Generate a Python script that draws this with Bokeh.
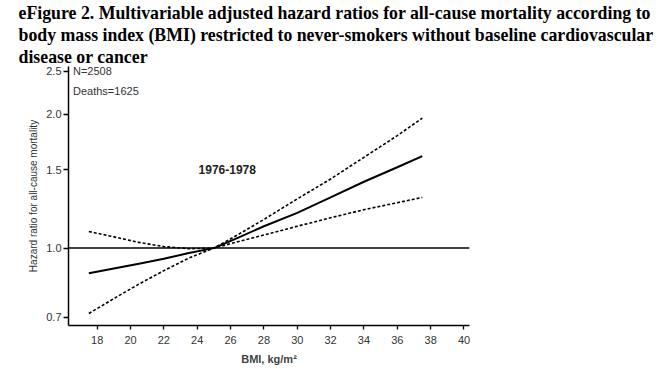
from bokeh.plotting import figure
from bokeh.models import FixedTicker, NumeralTickFormatter, Label, Span, Title, Range1d
from bokeh.embed import file_html
from bokeh.resources import INLINE

# ---- data ----
bmi = [17.5, 19, 20.5, 22, 23.5, 25, 26.5, 28, 30, 32, 34, 36, 37.5]
hr = [0.878, 0.900, 0.922, 0.946, 0.975, 1.0, 1.057, 1.12, 1.20, 1.30, 1.41, 1.52, 1.61]
hr_upper = [1.09, 1.06, 1.03, 1.008, 0.997, 1.0, 1.075, 1.16, 1.29, 1.43, 1.60, 1.79, 1.96]
hr_lower = [0.713, 0.77, 0.83, 0.89, 0.95, 1.0, 1.035, 1.07, 1.12, 1.17, 1.22, 1.265, 1.30]
x_ticks = [18, 20, 22, 24, 26, 28, 30, 32, 34, 36, 38, 40]
y_ticks = [0.7, 1.0, 1.5, 2.0, 2.5]
title_lines = [
    "eFigure 2. Multivariable adjusted hazard ratios for all-cause mortality according to",
    "body mass index (BMI) restricted to never-smokers without baseline cardiovascular",
    "disease or cancer",
]
period_label = "1976-1978"
n_label = "N=2508"
deaths_label = "Deaths=1625"

p = figure(width=661, height=369, y_axis_type="log",
           x_range=Range1d(16.28, 40.33), y_range=Range1d(0.670, 2.56),
           output_backend="svg", toolbar_location=None,
           min_border_left=68, min_border_right=192, min_border_bottom=44,
           min_border_top=0)
p.outline_line_color = None
p.xgrid.visible = False
p.ygrid.visible = False

# titles (first added is nearest to the plot)
for line in reversed(title_lines):
    t = Title(text=line, align="left", offset=-50,
              text_font="Liberation Serif", text_font_style="bold",
              text_font_size="17.8px", text_color="black", standoff=0)
    p.add_layout(t, "above")

# reference line
p.add_layout(Span(location=1.0, dimension="width", line_color="black", line_width=1.5))

p.line(bmi, hr, line_color="black", line_width=2)
p.line(bmi, hr_upper, line_color="black", line_width=1.6, line_dash="3 2")
p.line(bmi, hr_lower, line_color="black", line_width=1.6, line_dash="3 2")

for ax in (p.xaxis[0], p.yaxis[0]):
    ax.axis_line_color = "black"
    ax.axis_line_width = 1.5
    ax.major_tick_line_color = "black"
    ax.major_tick_line_width = 1.3
    ax.major_tick_in = 0
    ax.minor_tick_line_color = None
    ax.major_label_text_font = "Liberation Sans"
    ax.major_label_text_font_size = "11px"
    ax.major_label_text_color = "#333333"

p.xaxis.ticker = FixedTicker(ticks=x_ticks)
p.xaxis.major_tick_out = 4
p.xaxis.major_label_standoff = 6
p.xaxis.axis_label = "BMI, kg/m²"
p.xaxis.axis_label_text_font = "Liberation Sans"
p.xaxis.axis_label_text_font_style = "bold"
p.xaxis.axis_label_text_font_size = "11px"
p.xaxis.axis_label_standoff = 6

p.yaxis.ticker = FixedTicker(ticks=y_ticks)
p.yaxis.formatter = NumeralTickFormatter(format="0.0")
p.yaxis.major_tick_out = 5
p.yaxis.major_label_standoff = 2
p.yaxis.axis_label = "Hazard ratio for all-cause mortality"
p.yaxis.axis_label_text_font = "Liberation Sans"
p.yaxis.axis_label_text_font_style = "normal"
p.yaxis.axis_label_text_font_size = "10px"
p.yaxis.axis_label_text_color = "#333333"
p.yaxis.axis_label_standoff = 4

p.add_layout(Label(x=16.55, y=2.5, text=n_label, text_baseline="middle",
                   text_font="Liberation Sans", text_font_size="11px", text_color="#333333"))
p.add_layout(Label(x=16.55, y=2.26, text=deaths_label, text_baseline="middle",
                   text_font="Liberation Sans", text_font_size="11px", text_color="#333333"))
p.add_layout(Label(x=25.8, y=1.50, text=period_label, text_baseline="middle", text_align="center",
                   text_font="Liberation Sans", text_font_style="bold", text_font_size="12px",
                   text_color="#222222"))

open("out.html", "w").write(file_html(p, INLINE))
